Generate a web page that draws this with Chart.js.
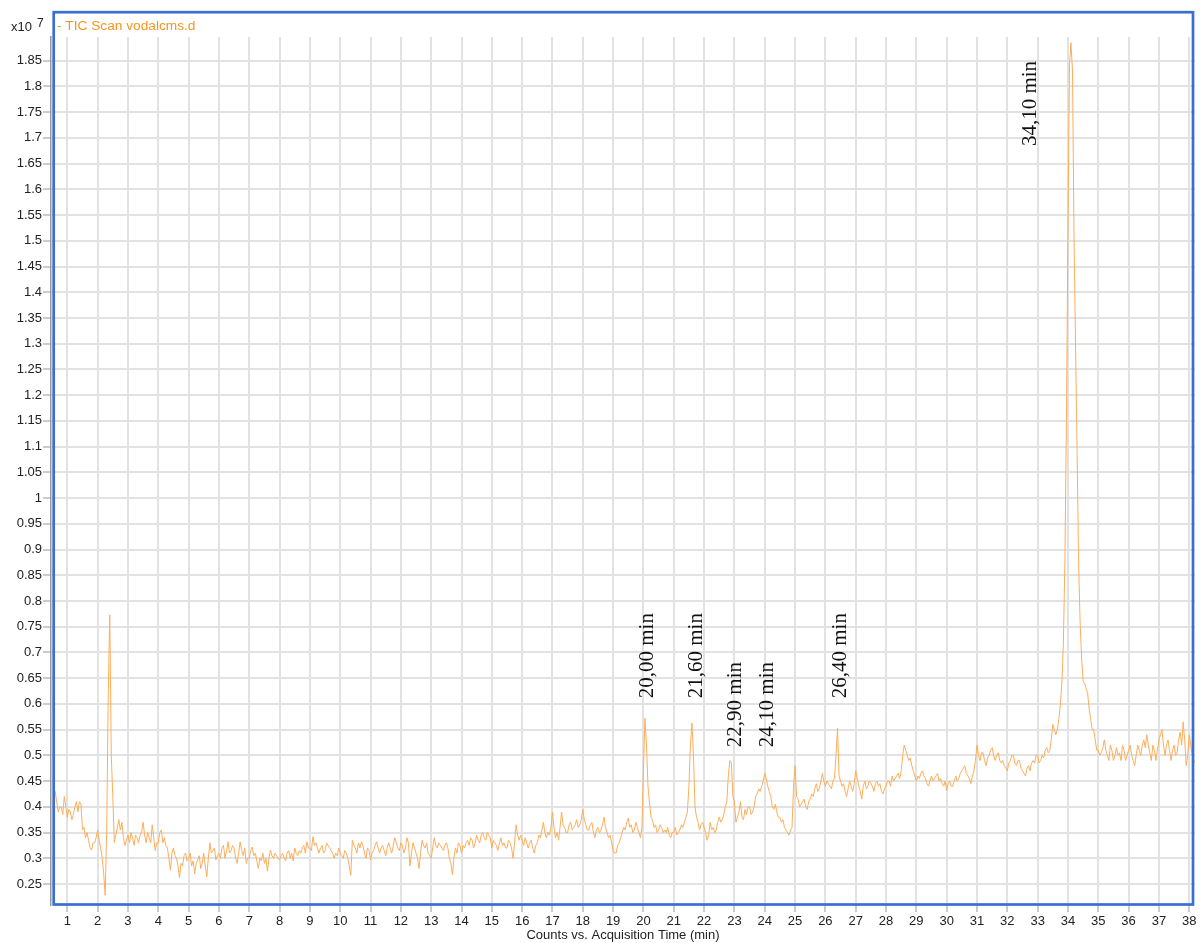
<!DOCTYPE html>
<html>
<head>
<meta charset="utf-8">
<title>TIC Scan vodalcms.d</title>
<script src="https://cdn.jsdelivr.net/npm/chart.js@4.4.1/dist/chart.umd.min.js"></script>
<style>
  html, body { margin: 0; padding: 0; background: #fff; overflow: hidden; }
  #wrap { width: 1201px; height: 943px; position: relative; }
</style>
</head>
<body>
<div id="wrap"><canvas id="ticChart"></canvas></div>
<script>
// TIC counts (x10^7), one reading every 0.05 min starting at 0.6 min
// (one row per minute, 20 readings)
const scanStart = 0.6;
const scanStep = 0.05;
const ticCounts = [
  0.43, 0.41, 0.39, 0.40, 0.40, 0.385, 0.42, 0.40,
  0.38, 0.395, 0.39, 0.375, 0.385, 0.40, 0.41, 0.39, 0.41, 0.405, 0.355, 0.36, 0.34, 0.35, 0.335, 0.32, 0.316, 0.33, 0.33, 0.34,
  0.355, 0.335, 0.32, 0.30, 0.27, 0.228, 0.36, 0.62, 0.773, 0.50, 0.42, 0.33, 0.345, 0.36, 0.375, 0.355, 0.37, 0.34, 0.325, 0.335,
  0.345, 0.33, 0.35, 0.34, 0.325, 0.345, 0.34, 0.33, 0.345, 0.35, 0.37, 0.345, 0.33, 0.35, 0.34, 0.33, 0.365, 0.34, 0.315, 0.33,
  0.33, 0.35, 0.355, 0.33, 0.34, 0.325, 0.32, 0.30, 0.277, 0.31, 0.32, 0.305, 0.30, 0.285, 0.262, 0.29, 0.285, 0.305, 0.31, 0.295,
  0.30, 0.31, 0.285, 0.295, 0.27, 0.29, 0.297, 0.305, 0.28, 0.29, 0.31, 0.285, 0.264, 0.30, 0.33, 0.31, 0.315, 0.32, 0.297, 0.305,
  0.31, 0.30, 0.32, 0.325, 0.30, 0.315, 0.332, 0.31, 0.315, 0.325, 0.32, 0.30, 0.29, 0.31, 0.332, 0.315, 0.305, 0.32, 0.29, 0.30,
  0.30, 0.315, 0.322, 0.305, 0.31, 0.295, 0.28, 0.30, 0.295, 0.31, 0.29, 0.30, 0.275, 0.30, 0.316, 0.305, 0.30, 0.31, 0.305, 0.30,
  0.297, 0.305, 0.31, 0.30, 0.295, 0.31, 0.315, 0.30, 0.31, 0.295, 0.32, 0.31, 0.305, 0.315, 0.31, 0.32, 0.325, 0.31, 0.332, 0.32,
  0.32, 0.315, 0.342, 0.325, 0.33, 0.32, 0.31, 0.32, 0.325, 0.31, 0.315, 0.33, 0.325, 0.32, 0.315, 0.31, 0.30, 0.31, 0.305, 0.32,
  0.31, 0.305, 0.30, 0.315, 0.31, 0.30, 0.285, 0.267, 0.335, 0.325, 0.32, 0.31, 0.33, 0.32, 0.332, 0.325, 0.31, 0.30, 0.32, 0.315,
  0.297, 0.31, 0.315, 0.325, 0.332, 0.32, 0.31, 0.32, 0.325, 0.315, 0.305, 0.32, 0.33, 0.32, 0.31, 0.325, 0.34, 0.33, 0.32, 0.315,
  0.33, 0.325, 0.31, 0.32, 0.34, 0.33, 0.285, 0.31, 0.33, 0.32, 0.31, 0.30, 0.28, 0.31, 0.335, 0.325, 0.32, 0.33, 0.31, 0.305,
  0.30, 0.32, 0.34, 0.325, 0.32, 0.33, 0.325, 0.32, 0.315, 0.325, 0.33, 0.32, 0.30, 0.29, 0.268, 0.30, 0.32, 0.31, 0.33, 0.325,
  0.31, 0.325, 0.32, 0.33, 0.335, 0.325, 0.34, 0.335, 0.32, 0.33, 0.345, 0.335, 0.33, 0.345, 0.35, 0.34, 0.335, 0.35, 0.345, 0.34,
  0.32, 0.335, 0.33, 0.325, 0.315, 0.33, 0.34, 0.325, 0.33, 0.32, 0.32, 0.335, 0.33, 0.32, 0.30, 0.33, 0.365, 0.345, 0.335, 0.345,
  0.335, 0.325, 0.34, 0.33, 0.32, 0.33, 0.335, 0.32, 0.31, 0.325, 0.33, 0.345, 0.34, 0.355, 0.37, 0.35, 0.34, 0.35, 0.345, 0.36,
  0.39, 0.36, 0.34, 0.35, 0.335, 0.36, 0.39, 0.365, 0.36, 0.35, 0.35, 0.365, 0.37, 0.355, 0.36, 0.365, 0.375, 0.36, 0.365, 0.375,
  0.395, 0.375, 0.365, 0.355, 0.355, 0.365, 0.37, 0.35, 0.34, 0.355, 0.36, 0.35, 0.355, 0.365, 0.38, 0.36, 0.35, 0.34, 0.345, 0.33,
  0.315, 0.31, 0.31, 0.325, 0.33, 0.34, 0.35, 0.36, 0.355, 0.37, 0.378, 0.36, 0.365, 0.35, 0.355, 0.37, 0.36, 0.35, 0.34, 0.36,
  0.47, 0.572, 0.52, 0.44, 0.407, 0.38, 0.374, 0.36, 0.365, 0.35, 0.355, 0.365, 0.36, 0.35, 0.355, 0.35, 0.36, 0.345, 0.34, 0.35,
  0.35, 0.36, 0.345, 0.35, 0.355, 0.365, 0.36, 0.37, 0.38, 0.39, 0.44, 0.52, 0.563, 0.50, 0.40, 0.38, 0.37, 0.355, 0.365, 0.37,
  0.36, 0.35, 0.335, 0.345, 0.37, 0.355, 0.36, 0.35, 0.355, 0.37, 0.38, 0.37, 0.375, 0.385, 0.40, 0.41, 0.46, 0.49, 0.485, 0.42,
  0.41, 0.37, 0.38, 0.39, 0.41, 0.38, 0.375, 0.395, 0.385, 0.40, 0.40, 0.385, 0.39, 0.40, 0.42, 0.425, 0.435, 0.43, 0.44, 0.45,
  0.465, 0.455, 0.44, 0.43, 0.42, 0.40, 0.395, 0.405, 0.39, 0.38, 0.38, 0.37, 0.375, 0.36, 0.355, 0.35, 0.345, 0.355, 0.36, 0.44,
  0.48, 0.42, 0.415, 0.40, 0.405, 0.41, 0.415, 0.40, 0.395, 0.41, 0.415, 0.425, 0.42, 0.435, 0.445, 0.43, 0.435, 0.45, 0.465, 0.45,
  0.44, 0.45, 0.445, 0.44, 0.435, 0.45, 0.455, 0.50, 0.553, 0.46, 0.45, 0.44, 0.445, 0.43, 0.42, 0.435, 0.45, 0.44, 0.43, 0.445,
  0.47, 0.455, 0.44, 0.43, 0.415, 0.44, 0.45, 0.435, 0.44, 0.45, 0.446, 0.44, 0.43, 0.445, 0.45, 0.44, 0.445, 0.43, 0.425, 0.435,
  0.44, 0.45, 0.45, 0.44, 0.46, 0.45, 0.455, 0.46, 0.465, 0.455, 0.47, 0.50, 0.52, 0.51, 0.50, 0.49, 0.495, 0.48, 0.47, 0.46,
  0.45, 0.46, 0.455, 0.465, 0.47, 0.46, 0.455, 0.445, 0.44, 0.45, 0.46, 0.45, 0.455, 0.46, 0.465, 0.45, 0.455, 0.445, 0.44, 0.45,
  0.432, 0.445, 0.45, 0.44, 0.44, 0.45, 0.46, 0.45, 0.455, 0.465, 0.47, 0.475, 0.48, 0.465, 0.46, 0.455, 0.445, 0.46, 0.47, 0.49,
  0.52, 0.50, 0.49, 0.505, 0.505, 0.49, 0.48, 0.495, 0.50, 0.51, 0.515, 0.50, 0.49, 0.50, 0.505, 0.49, 0.485, 0.49, 0.48, 0.475,
  0.47, 0.485, 0.49, 0.50, 0.50, 0.485, 0.48, 0.49, 0.49, 0.475, 0.47, 0.465, 0.46, 0.475, 0.48, 0.47, 0.485, 0.49, 0.485, 0.50,
  0.50, 0.485, 0.49, 0.50, 0.495, 0.51, 0.515, 0.505, 0.51, 0.53, 0.56, 0.55, 0.54, 0.55, 0.57, 0.60, 0.64, 0.72, 0.88, 1.15,
  1.52, 1.84, 1.885, 1.83, 1.51, 1.30, 1.10, 0.88, 0.76, 0.69, 0.645, 0.64, 0.63, 0.62, 0.59, 0.57, 0.55, 0.55, 0.53, 0.51,
  0.51, 0.50, 0.505, 0.515, 0.53, 0.51, 0.50, 0.49, 0.52, 0.51, 0.49, 0.50, 0.515, 0.50, 0.505, 0.49, 0.52, 0.51, 0.49, 0.50,
  0.51, 0.52, 0.50, 0.49, 0.48, 0.50, 0.52, 0.51, 0.50, 0.52, 0.53, 0.515, 0.54, 0.52, 0.505, 0.49, 0.52, 0.51, 0.49, 0.51,
  0.53, 0.54, 0.55, 0.52, 0.50, 0.52, 0.53, 0.51, 0.49, 0.51, 0.52, 0.50, 0.505, 0.53, 0.545, 0.52, 0.565, 0.53, 0.48, 0.50,
  0.54, 0.52, 0.50, 0.49, 0.485
];

// peak annotations: text, time and count where the text starts
const peakLabels = ['20,00 min', '21,60 min', '22,90 min', '24,10 min', '26,40 min', '34,10 min'];
const peakLabelTimes = [20.08, 21.70, 22.98, 24.04, 26.45, 32.72];
const peakLabelCounts = [0.611, 0.611, 0.516, 0.516, 0.611, 1.684];

const seriesName = '- TIC Scan vodalcms.d';
const xTitle = 'Counts vs. Acquisition Time (min)';

Chart.defaults.font.family = "'Liberation Sans', Arial, sans-serif";
Chart.defaults.font.size = 13;
Chart.defaults.color = '#222';

const points = ticCounts.map((v, i) => ({ x: Math.round((scanStart + i * scanStep) * 100) / 100, y: v }));

const extras = {
  id: 'extras',
  afterDraw(chart) {
    const { ctx, chartArea: a, scales: { x, y } } = chart;
    ctx.save();

    // rotated peak labels
    ctx.font = '21px "Liberation Serif", "Times New Roman", serif';
    ctx.fillStyle = '#111';
    ctx.textAlign = 'left';
    ctx.textBaseline = 'alphabetic';
    peakLabels.forEach((txt, i) => {
      ctx.save();
      ctx.translate(x.getPixelForValue(peakLabelTimes[i]), y.getPixelForValue(peakLabelCounts[i]));
      ctx.rotate(-Math.PI / 2);
      ctx.fillText(txt, 0, 7);
      ctx.restore();
    });

    // series name
    ctx.font = "13.7px 'Liberation Sans', Arial, sans-serif";
    ctx.fillStyle = '#f7931e';
    ctx.textBaseline = 'middle';
    ctx.fillText(seriesName, a.left + 6, a.top - 11);

    // exponent
    ctx.font = "13px 'Liberation Sans', Arial, sans-serif";
    ctx.fillStyle = '#222';
    ctx.fillText('x10', 11, a.top - 10);
    ctx.font = "12px 'Liberation Sans', Arial, sans-serif";
    ctx.fillText('7', 37, a.top - 13);

    // blue selection frame
    ctx.strokeStyle = '#3a6fd0';
    ctx.lineWidth = 2.7;
    const l = a.left + 2.7, t = a.top - 24.8, r = a.right - 2, b = a.bottom - 0.5;
    ctx.strokeRect(l, t, r - l, b - t);
    ctx.restore();
  }
};

new Chart(document.getElementById('ticChart'), {
  type: 'line',
  data: {
    datasets: [{
      label: seriesName,
      data: points,
      borderColor: '#ffad5a',
      borderWidth: 1,
      pointRadius: 0,
      tension: 0,
      fill: false
    }]
  },
  options: {
    responsive: true,
    maintainAspectRatio: false,
    animation: false,
    layout: { padding: { top: 37, right: 6, left: 0, bottom: 0 } },
    plugins: { legend: { display: false }, tooltip: { enabled: false } },
    scales: {
      x: {
        type: 'linear',
        min: 0.462,
        max: 38.19,
        afterFit: s => { s.height = 38; },
        ticks: { stepSize: 1, autoSkip: false, includeBounds: false, maxRotation: 0, padding: 2 },
        grid: { color: '#e2e2e2', lineWidth: 2, tickLength: 7, tickColor: '#999', tickWidth: 1 },
        border: { display: false },
        title: { display: true, text: xTitle, padding: 0 }
      },
      y: {
        min: 0.2092,
        max: 1.896,
        afterFit: s => { s.width = 51; },
        ticks: {
          stepSize: 0.05, autoSkip: false, includeBounds: false, padding: 1,
          callback: v => String(Math.round(v * 100) / 100)
        },
        grid: { color: '#e2e2e2', lineWidth: 2, tickLength: 8, tickColor: '#999', tickWidth: 1 },
        border: { display: true, color: '#999', width: 1.5 }
      }
    }
  },
  plugins: [extras]
});
</script>
</body>
</html>
